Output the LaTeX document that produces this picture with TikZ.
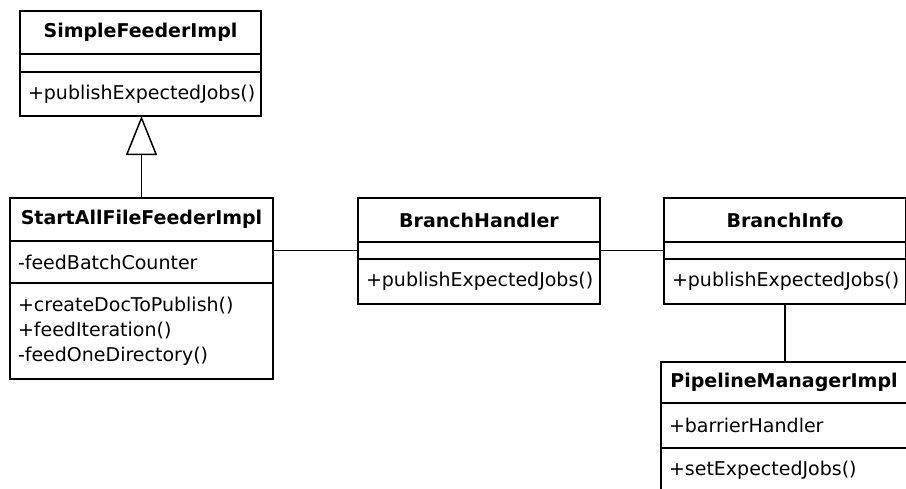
\documentclass[tikz,border=0pt]{standalone}
\usepackage{fontspec}
\setmainfont{DejaVu Sans}
\usetikzlibrary{arrows.meta,positioning}
\tikzset{>=latex}
\tikzset{cls/.style={draw, line width=1.5pt, inner xsep=8pt, inner ysep=0pt, outer sep=0pt,
    font=\fontsize{19}{25}\selectfont},
  ctitle/.style={cls, font=\fontsize{19}{25}\selectfont\bfseries, align=center, anchor=north west},
  cpart/.style={cls, align=left}}

\begin{document}
\begin{tikzpicture}[x=1pt,y=-1pt]
      \useasboundingbox (0,0) rectangle (906,488);
      \clip (0,0) rectangle (906,488);
      % SimpleFeederImpl
      \node[ctitle, text width=225pt, minimum height=43pt] (sfi) at (20,11) {SimpleFeederImpl};
      \node[cpart, text width=225pt, minimum height=18pt, below=0pt of sfi] (sfiA) {};
      \node[cpart, text width=225pt, minimum height=44pt, below=0pt of sfiA] (sfiM) {+publishExpectedJobs()};
      % StartAllFileFeederImpl
      \node[ctitle, text width=247pt, minimum height=43pt] (saf) at (10,198) {StartAllFileFeederImpl};
      \node[cpart, text width=247pt, minimum height=42pt, below=0pt of saf] (safA) {-feedBatchCounter};
      \node[cpart, text width=247pt, minimum height=96pt, below=0pt of safA] (safM)
        {+createDocToPublish()\\+feedIteration()\\-feedOneDirectory()};
      % BranchHandler
      \node[ctitle, text width=226pt, minimum height=44pt] (bh) at (358,198) {BranchHandler};
      \node[cpart, text width=226pt, minimum height=17pt, below=0pt of bh] (bhA) {};
      \node[cpart, text width=226pt, minimum height=45pt, below=0pt of bhA] (bhM) {+publishExpectedJobs()};
      % BranchInfo
      \node[ctitle, text width=226pt, minimum height=44pt] (bi) at (664,198) {BranchInfo};
      \node[cpart, text width=226pt, minimum height=17pt, below=0pt of bi] (biA) {};
      \node[cpart, text width=226pt, minimum height=45pt, below=0pt of biA] (biM) {+publishExpectedJobs()};
      % PipelineManagerImpl
      \node[ctitle, text width=230pt, minimum height=41pt] (pmi) at (661,362) {PipelineManagerImpl};
      \node[cpart, text width=230pt, minimum height=45pt, below=0pt of pmi] (pmiA) {+barrierHandler};
      \node[cpart, text width=230pt, minimum height=45pt, below=0pt of pmiA] (pmiM) {+setExpectedJobs()};
      % connectors
      \draw[line width=1.5pt, -{Triangle[open, length=39pt, width=31pt]}] (saf.north) -- (saf.north |- sfiM.south);
      \draw[line width=1.5pt] (bhA.west) -- (bhA.west -| safA.east);
      \draw[line width=1.5pt] (bhA.east) -- (biA.west);
      \draw[line width=1.5pt] (biM.south) -- (biM.south |- pmi.north);
    \end{tikzpicture}
\end{document}
